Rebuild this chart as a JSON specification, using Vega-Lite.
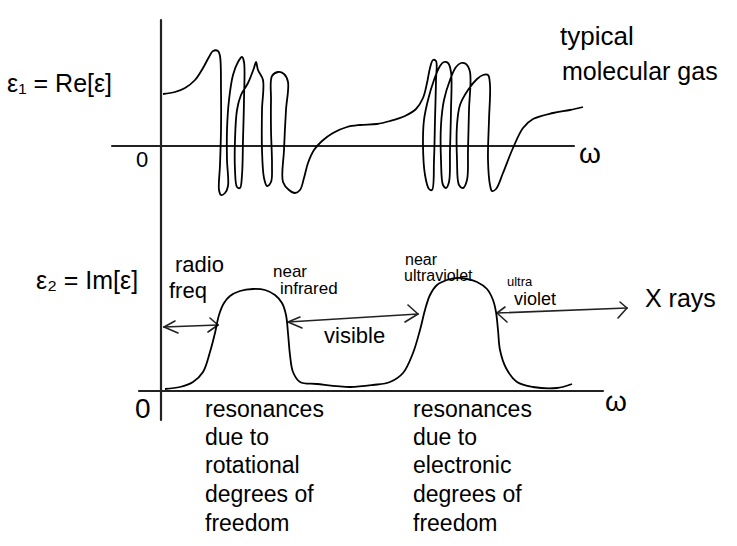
{
  "$schema": "https://vega.github.io/schema/vega-lite/v6.json",
  "autosize": {"type": "fit", "contains": "padding"},
  "width": 737,
  "height": 546,
  "padding": 0,
  "background": "white",
  "config": {"view": {"stroke": null}, "axis": {"grid": false}, "text": {"font": "Liberation Sans", "align": "left", "baseline": "alphabetic", "color": "#000000"}},
  "datasets": {
    "segs": [
      {"kind": "axis", "x1": 161, "y1": 20, "x2": 161, "y2": 420},
      {"kind": "axis", "x1": 112, "y1": 146, "x2": 574, "y2": 146},
      {"kind": "axis", "x1": 139, "y1": 391, "x2": 603, "y2": 391},
      {"kind": "arrow", "x1": 164, "y1": 327, "x2": 218, "y2": 325},
      {"kind": "arrow", "x1": 164, "y1": 327, "x2": 175, "y2": 321},
      {"kind": "arrow", "x1": 164, "y1": 327, "x2": 178, "y2": 333},
      {"kind": "arrow", "x1": 218, "y1": 325, "x2": 210, "y2": 318},
      {"kind": "arrow", "x1": 218, "y1": 325, "x2": 208, "y2": 332},
      {"kind": "arrow", "x1": 288, "y1": 322, "x2": 418, "y2": 314},
      {"kind": "arrow", "x1": 288, "y1": 322, "x2": 300, "y2": 317},
      {"kind": "arrow", "x1": 288, "y1": 322, "x2": 302, "y2": 328},
      {"kind": "arrow", "x1": 418, "y1": 314, "x2": 408, "y2": 305},
      {"kind": "arrow", "x1": 418, "y1": 314, "x2": 405, "y2": 322},
      {"kind": "arrow", "x1": 497, "y1": 313, "x2": 627, "y2": 308},
      {"kind": "arrow", "x1": 497, "y1": 313, "x2": 505, "y2": 307},
      {"kind": "arrow", "x1": 497, "y1": 313, "x2": 507, "y2": 322},
      {"kind": "arrow", "x1": 627, "y1": 308, "x2": 620, "y2": 302},
      {"kind": "arrow", "x1": 627, "y1": 308, "x2": 618, "y2": 318}
    ],
    "curves": [
      {"s": "re", "i": 1, "x": 163, "y": 94}, {"s": "re", "i": 2, "x": 175, "y": 92}, {"s": "re", "i": 3, "x": 185, "y": 88},
      {"s": "re", "i": 4, "x": 195, "y": 80}, {"s": "re", "i": 5, "x": 203, "y": 68}, {"s": "re", "i": 6, "x": 209, "y": 57},
      {"s": "re", "i": 7, "x": 213, "y": 51}, {"s": "re", "i": 8, "x": 218, "y": 51}, {"s": "re", "i": 9, "x": 220, "y": 56},
      {"s": "re", "i": 10, "x": 221, "y": 90}, {"s": "re", "i": 11, "x": 221, "y": 130}, {"s": "re", "i": 12, "x": 220, "y": 165},
      {"s": "re", "i": 13, "x": 219, "y": 190}, {"s": "re", "i": 14, "x": 221, "y": 195}, {"s": "re", "i": 15, "x": 225, "y": 193},
      {"s": "re", "i": 16, "x": 228, "y": 186}, {"s": "re", "i": 17, "x": 227, "y": 160}, {"s": "re", "i": 18, "x": 227, "y": 130},
      {"s": "re", "i": 19, "x": 229, "y": 100}, {"s": "re", "i": 20, "x": 233, "y": 75}, {"s": "re", "i": 21, "x": 238, "y": 62},
      {"s": "re", "i": 22, "x": 242, "y": 57}, {"s": "re", "i": 23, "x": 244, "y": 62}, {"s": "re", "i": 24, "x": 244, "y": 100},
      {"s": "re", "i": 25, "x": 243, "y": 140}, {"s": "re", "i": 26, "x": 242, "y": 175}, {"s": "re", "i": 27, "x": 240, "y": 188},
      {"s": "re", "i": 28, "x": 237, "y": 187}, {"s": "re", "i": 29, "x": 235, "y": 170}, {"s": "re", "i": 30, "x": 235, "y": 140},
      {"s": "re", "i": 31, "x": 237, "y": 110}, {"s": "re", "i": 32, "x": 241, "y": 95}, {"s": "re", "i": 33, "x": 248, "y": 83},
      {"s": "re", "i": 34, "x": 254, "y": 68}, {"s": "re", "i": 35, "x": 256, "y": 62}, {"s": "re", "i": 36, "x": 258, "y": 70},
      {"s": "re", "i": 37, "x": 263, "y": 80}, {"s": "re", "i": 38, "x": 262, "y": 110}, {"s": "re", "i": 39, "x": 262, "y": 150},
      {"s": "re", "i": 40, "x": 264, "y": 178}, {"s": "re", "i": 41, "x": 267, "y": 186}, {"s": "re", "i": 42, "x": 271, "y": 182},
      {"s": "re", "i": 43, "x": 272, "y": 165}, {"s": "re", "i": 44, "x": 271, "y": 130}, {"s": "re", "i": 45, "x": 271, "y": 100},
      {"s": "re", "i": 46, "x": 272, "y": 76}, {"s": "re", "i": 47, "x": 278, "y": 72}, {"s": "re", "i": 48, "x": 284, "y": 74},
      {"s": "re", "i": 49, "x": 288, "y": 82}, {"s": "re", "i": 50, "x": 286, "y": 110}, {"s": "re", "i": 51, "x": 284, "y": 150},
      {"s": "re", "i": 52, "x": 283, "y": 182}, {"s": "re", "i": 53, "x": 289, "y": 190}, {"s": "re", "i": 54, "x": 295, "y": 193},
      {"s": "re", "i": 55, "x": 300, "y": 190}, {"s": "re", "i": 56, "x": 304, "y": 178}, {"s": "re", "i": 57, "x": 308, "y": 163},
      {"s": "re", "i": 58, "x": 314, "y": 150}, {"s": "re", "i": 59, "x": 322, "y": 141}, {"s": "re", "i": 60, "x": 333, "y": 133},
      {"s": "re", "i": 61, "x": 347, "y": 127}, {"s": "re", "i": 62, "x": 360, "y": 125}, {"s": "re", "i": 63, "x": 377, "y": 124},
      {"s": "re", "i": 64, "x": 390, "y": 121}, {"s": "re", "i": 65, "x": 405, "y": 116}, {"s": "re", "i": 66, "x": 416, "y": 109},
      {"s": "re", "i": 67, "x": 423, "y": 98}, {"s": "re", "i": 68, "x": 427, "y": 83}, {"s": "re", "i": 69, "x": 430, "y": 68},
      {"s": "re", "i": 70, "x": 433, "y": 60}, {"s": "re", "i": 71, "x": 436, "y": 61}, {"s": "re", "i": 72, "x": 436, "y": 80},
      {"s": "re", "i": 73, "x": 435, "y": 120}, {"s": "re", "i": 74, "x": 434, "y": 160}, {"s": "re", "i": 75, "x": 432, "y": 190},
      {"s": "re", "i": 76, "x": 429, "y": 189}, {"s": "re", "i": 77, "x": 425, "y": 175}, {"s": "re", "i": 78, "x": 423, "y": 145},
      {"s": "re", "i": 79, "x": 424, "y": 120}, {"s": "re", "i": 80, "x": 428, "y": 100}, {"s": "re", "i": 81, "x": 434, "y": 80},
      {"s": "re", "i": 82, "x": 440, "y": 66}, {"s": "re", "i": 83, "x": 444, "y": 62}, {"s": "re", "i": 84, "x": 448, "y": 63},
      {"s": "re", "i": 85, "x": 451, "y": 72}, {"s": "re", "i": 86, "x": 451, "y": 110}, {"s": "re", "i": 87, "x": 450, "y": 150},
      {"s": "re", "i": 88, "x": 449, "y": 182}, {"s": "re", "i": 89, "x": 446, "y": 188}, {"s": "re", "i": 90, "x": 443, "y": 185},
      {"s": "re", "i": 91, "x": 441, "y": 160}, {"s": "re", "i": 92, "x": 441, "y": 125}, {"s": "re", "i": 93, "x": 444, "y": 100},
      {"s": "re", "i": 94, "x": 450, "y": 80}, {"s": "re", "i": 95, "x": 456, "y": 67}, {"s": "re", "i": 96, "x": 461, "y": 63},
      {"s": "re", "i": 97, "x": 466, "y": 64}, {"s": "re", "i": 98, "x": 470, "y": 72}, {"s": "re", "i": 99, "x": 469, "y": 110},
      {"s": "re", "i": 100, "x": 468, "y": 150}, {"s": "re", "i": 101, "x": 467, "y": 180}, {"s": "re", "i": 102, "x": 463, "y": 188},
      {"s": "re", "i": 103, "x": 459, "y": 185}, {"s": "re", "i": 104, "x": 457, "y": 160}, {"s": "re", "i": 105, "x": 457, "y": 125},
      {"s": "re", "i": 106, "x": 460, "y": 105}, {"s": "re", "i": 107, "x": 468, "y": 90}, {"s": "re", "i": 108, "x": 477, "y": 79},
      {"s": "re", "i": 109, "x": 483, "y": 75}, {"s": "re", "i": 110, "x": 488, "y": 75}, {"s": "re", "i": 111, "x": 490, "y": 85},
      {"s": "re", "i": 112, "x": 489, "y": 120}, {"s": "re", "i": 113, "x": 488, "y": 160}, {"s": "re", "i": 114, "x": 490, "y": 185},
      {"s": "re", "i": 115, "x": 492, "y": 191}, {"s": "re", "i": 116, "x": 496, "y": 189}, {"s": "re", "i": 117, "x": 503, "y": 173},
      {"s": "re", "i": 118, "x": 513, "y": 148}, {"s": "re", "i": 119, "x": 523, "y": 128}, {"s": "re", "i": 120, "x": 533, "y": 119},
      {"s": "re", "i": 121, "x": 553, "y": 113}, {"s": "re", "i": 122, "x": 570, "y": 110}, {"s": "re", "i": 123, "x": 583, "y": 107},
      {"s": "im", "i": 1, "x": 165, "y": 389}, {"s": "im", "i": 2, "x": 180, "y": 387}, {"s": "im", "i": 3, "x": 193, "y": 382},
      {"s": "im", "i": 4, "x": 203, "y": 372}, {"s": "im", "i": 5, "x": 210, "y": 352}, {"s": "im", "i": 6, "x": 215, "y": 333},
      {"s": "im", "i": 7, "x": 219, "y": 315}, {"s": "im", "i": 8, "x": 224, "y": 303}, {"s": "im", "i": 9, "x": 230, "y": 296},
      {"s": "im", "i": 10, "x": 240, "y": 291}, {"s": "im", "i": 11, "x": 253, "y": 289}, {"s": "im", "i": 12, "x": 265, "y": 290},
      {"s": "im", "i": 13, "x": 275, "y": 295}, {"s": "im", "i": 14, "x": 282, "y": 303}, {"s": "im", "i": 15, "x": 286, "y": 315},
      {"s": "im", "i": 16, "x": 288, "y": 333}, {"s": "im", "i": 17, "x": 290, "y": 355}, {"s": "im", "i": 18, "x": 293, "y": 372},
      {"s": "im", "i": 19, "x": 300, "y": 382}, {"s": "im", "i": 20, "x": 317, "y": 384}, {"s": "im", "i": 21, "x": 350, "y": 387},
      {"s": "im", "i": 22, "x": 373, "y": 385}, {"s": "im", "i": 23, "x": 390, "y": 382}, {"s": "im", "i": 24, "x": 403, "y": 373},
      {"s": "im", "i": 25, "x": 413, "y": 353}, {"s": "im", "i": 26, "x": 420, "y": 330}, {"s": "im", "i": 27, "x": 425, "y": 310},
      {"s": "im", "i": 28, "x": 430, "y": 295}, {"s": "im", "i": 29, "x": 437, "y": 285}, {"s": "im", "i": 30, "x": 447, "y": 280},
      {"s": "im", "i": 31, "x": 457, "y": 278}, {"s": "im", "i": 32, "x": 467, "y": 279}, {"s": "im", "i": 33, "x": 477, "y": 282},
      {"s": "im", "i": 34, "x": 487, "y": 289}, {"s": "im", "i": 35, "x": 493, "y": 300}, {"s": "im", "i": 36, "x": 496, "y": 312},
      {"s": "im", "i": 37, "x": 498, "y": 330}, {"s": "im", "i": 38, "x": 500, "y": 350}, {"s": "im", "i": 39, "x": 506, "y": 368},
      {"s": "im", "i": 40, "x": 517, "y": 382}, {"s": "im", "i": 41, "x": 533, "y": 387}, {"s": "im", "i": 42, "x": 557, "y": 388},
      {"s": "im", "i": 43, "x": 572, "y": 384}
    ],
    "labels": [
      {"k": "f25", "x": 7, "y": 92, "t": "ε₁ = Re[ε]"},
      {"k": "f22", "x": 136, "y": 167, "t": "0"},
      {"k": "f28", "x": 579, "y": 163, "t": "ω"},
      {"k": "f26", "x": 560, "y": 45, "t": "typical"},
      {"k": "f25", "x": 562, "y": 80, "t": "molecular gas"},
      {"k": "f25", "x": 36, "y": 289, "t": "ε₂ = Im[ε]"},
      {"k": "f22", "x": 175, "y": 272, "t": "radio"},
      {"k": "f22", "x": 169, "y": 298, "t": "freq"},
      {"k": "f17", "x": 273, "y": 277, "t": "near"},
      {"k": "f17", "x": 280, "y": 294, "t": "infrared"},
      {"k": "f22", "x": 324, "y": 343, "t": "visible"},
      {"k": "f16", "x": 405, "y": 265, "t": "near"},
      {"k": "f16", "x": 404, "y": 281, "t": "ultraviolet"},
      {"k": "f13", "x": 507, "y": 286, "t": "ultra"},
      {"k": "f18", "x": 514, "y": 305, "t": "violet"},
      {"k": "f25", "x": 645, "y": 307, "t": "X rays"},
      {"k": "f28", "x": 135, "y": 418, "t": "0"},
      {"k": "f28", "x": 605, "y": 411, "t": "ω"},
      {"k": "f23", "x": 205, "y": 417, "t": "resonances"},
      {"k": "f23", "x": 205, "y": 445, "t": "due to"},
      {"k": "f23", "x": 205, "y": 473, "t": "rotational"},
      {"k": "f23", "x": 205, "y": 502, "t": "degrees of"},
      {"k": "f23", "x": 205, "y": 531, "t": "freedom"},
      {"k": "f23", "x": 413, "y": 417, "t": "resonances"},
      {"k": "f23", "x": 413, "y": 445, "t": "due to"},
      {"k": "f23", "x": 413, "y": 473, "t": "electronic"},
      {"k": "f23", "x": 413, "y": 502, "t": "degrees of"},
      {"k": "f23", "x": 413, "y": 531, "t": "freedom"}
    ]
  },
  "layer": [
    {
      "data": {"name": "segs"},
      "mark": {"type": "rule", "strokeCap": "round"},
      "encoding": {
        "x": {"field": "x1", "type": "quantitative", "scale": {"domain": [0, 737], "nice": false, "zero": false}, "axis": null},
        "y": {"field": "y1", "type": "quantitative", "scale": {"domain": [0, 546], "nice": false, "zero": false, "reverse": true}, "axis": null},
        "x2": {"field": "x2"},
        "y2": {"field": "y2"},
        "strokeWidth": {"field": "kind", "type": "nominal", "scale": {"domain": ["axis", "arrow"], "range": [2.2, 1.6]}, "legend": null},
        "color": {"value": "#222222"}
      }
    },
    {
      "data": {"name": "curves"},
      "mark": {"type": "line", "strokeWidth": 1.8, "color": "#000000", "interpolate": "catmull-rom"},
      "encoding": {
        "x": {"field": "x", "type": "quantitative", "axis": null},
        "y": {"field": "y", "type": "quantitative", "axis": null},
        "detail": {"field": "s", "type": "nominal"},
        "order": {"field": "i", "type": "quantitative"}
      }
    },
    {"data": {"name": "labels"}, "transform": [{"filter": "datum.k === 'f28'"}], "mark": {"type": "text", "fontSize": 28},
      "encoding": {"x": {"field": "x", "type": "quantitative", "axis": null}, "y": {"field": "y", "type": "quantitative", "axis": null}, "text": {"field": "t", "type": "nominal"}}},
    {"data": {"name": "labels"}, "transform": [{"filter": "datum.k === 'f26'"}], "mark": {"type": "text", "fontSize": 26},
      "encoding": {"x": {"field": "x", "type": "quantitative", "axis": null}, "y": {"field": "y", "type": "quantitative", "axis": null}, "text": {"field": "t", "type": "nominal"}}},
    {"data": {"name": "labels"}, "transform": [{"filter": "datum.k === 'f25'"}], "mark": {"type": "text", "fontSize": 25},
      "encoding": {"x": {"field": "x", "type": "quantitative", "axis": null}, "y": {"field": "y", "type": "quantitative", "axis": null}, "text": {"field": "t", "type": "nominal"}}},
    {"data": {"name": "labels"}, "transform": [{"filter": "datum.k === 'f23'"}], "mark": {"type": "text", "fontSize": 23},
      "encoding": {"x": {"field": "x", "type": "quantitative", "axis": null}, "y": {"field": "y", "type": "quantitative", "axis": null}, "text": {"field": "t", "type": "nominal"}}},
    {"data": {"name": "labels"}, "transform": [{"filter": "datum.k === 'f22'"}], "mark": {"type": "text", "fontSize": 22},
      "encoding": {"x": {"field": "x", "type": "quantitative", "axis": null}, "y": {"field": "y", "type": "quantitative", "axis": null}, "text": {"field": "t", "type": "nominal"}}},
    {"data": {"name": "labels"}, "transform": [{"filter": "datum.k === 'f18'"}], "mark": {"type": "text", "fontSize": 18},
      "encoding": {"x": {"field": "x", "type": "quantitative", "axis": null}, "y": {"field": "y", "type": "quantitative", "axis": null}, "text": {"field": "t", "type": "nominal"}}},
    {"data": {"name": "labels"}, "transform": [{"filter": "datum.k === 'f17'"}], "mark": {"type": "text", "fontSize": 17},
      "encoding": {"x": {"field": "x", "type": "quantitative", "axis": null}, "y": {"field": "y", "type": "quantitative", "axis": null}, "text": {"field": "t", "type": "nominal"}}},
    {"data": {"name": "labels"}, "transform": [{"filter": "datum.k === 'f16'"}], "mark": {"type": "text", "fontSize": 16},
      "encoding": {"x": {"field": "x", "type": "quantitative", "axis": null}, "y": {"field": "y", "type": "quantitative", "axis": null}, "text": {"field": "t", "type": "nominal"}}},
    {"data": {"name": "labels"}, "transform": [{"filter": "datum.k === 'f13'"}], "mark": {"type": "text", "fontSize": 13},
      "encoding": {"x": {"field": "x", "type": "quantitative", "axis": null}, "y": {"field": "y", "type": "quantitative", "axis": null}, "text": {"field": "t", "type": "nominal"}}}
  ]
}
